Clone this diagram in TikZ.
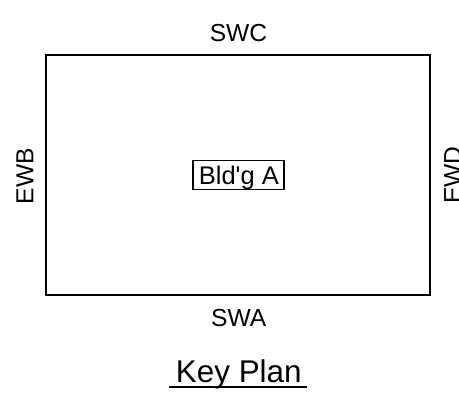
\documentclass[tikz,border=0pt]{standalone}
\usepackage{fontspec}
\setmainfont{Liberation Sans}
\tikzset{lbl/.style={font=\fontsize{24.6}{28}\selectfont,inner sep=0pt,text=black,anchor=base},
plan/.style={draw=black,line width=1.3pt}}
\begin{document}
\begin{tikzpicture}[x=1pt,y=-1pt]
\useasboundingbox (0,0) rectangle (459,402);
\begin{scope}
\clip (0,0) rectangle (459,402);
\node[plan,minimum width=384,minimum height=240,inner sep=0pt] (outer) at (238,175) {};
\node[lbl] (swc) at (238.5,41.5) {SWC};
\node[lbl] (swa) at (238.7,326.7) {SWA};
\node[lbl,rotate=90] (ewb) at (33.5,176) {EWB};
\node[lbl,rotate=90] (ewd) at (461,175) {EWD};
\node[plan,minimum width=91,minimum height=29,inner sep=0pt] (bldgbox) at (238.4,175.3) {};
\node[lbl,font=\fontsize{25.5}{29}\selectfont] (bldg) at (238.9,184) {Bld\textquotesingle g A};
\node[lbl,font=\fontsize{31.4}{36}\selectfont] (key) at (238.8,382) {Key Plan};
\coordinate (ula) at (169,387);
\coordinate (ulb) at (307,387);
\draw[line width=1.3pt] (ula) -- (ulb);
\end{scope}
\end{tikzpicture}
\end{document}
